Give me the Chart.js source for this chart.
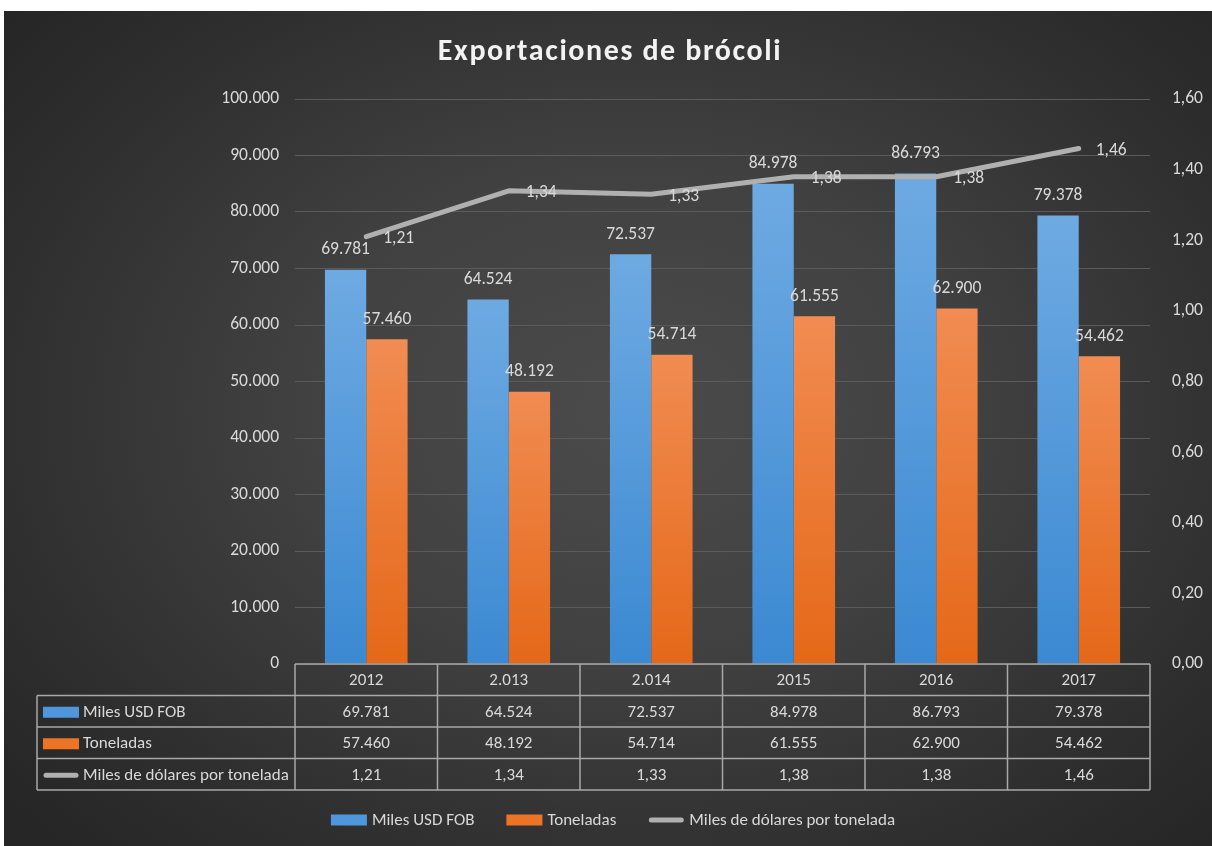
<!DOCTYPE html>
<html>
<head>
<meta charset="utf-8">
<script src="https://cdn.jsdelivr.net/npm/chart.js@4.4.1/dist/chart.umd.min.js"></script>
<style>
  html, body { margin: 0; padding: 0; background: #fff; }
  #wrap {
    position: absolute; left: 4px; top: 11px; width: 1208px; height: 835px;
    background: radial-gradient(ellipse 68% 72% at 52% 48%, #4b4b4b 0%, #414141 40%, #2e2e2e 80%, #262626 100%);
  }
  canvas { display: block; }
</style>
</head>
<body>
<div id="wrap"><canvas id="grafico" width="1208" height="835"></canvas></div>
<script>
  // datos del gráfico
  const anios = ['2012', '2.013', '2.014', '2015', '2016', '2017'];
  const milesUsdFob = [69781, 64524, 72537, 84978, 86793, 79378];
  const toneladas = [57460, 48192, 54714, 61555, 62900, 54462];
  const dolaresPorTonelada = [1.21, 1.34, 1.33, 1.38, 1.38, 1.46];
  const nombres = ['Miles USD FOB', 'Toneladas', 'Miles de dólares por tonelada'];
  const titulo = 'Exportaciones de brócoli';

  const colorTexto = '#d9d9d9';
  const colorLinea = '#b0b0b0';
  const colorClave = ['#4f97dc', '#ee7425'];
  const fuente = "Carlito, 'Liberation Sans', sans-serif";
  const tam = 17;

  const miles = n => String(n).replace(/\B(?=(\d{3})+(?!\d))/g, '.');
  const decimal = n => n.toFixed(2).replace('.', ',');

  Chart.defaults.font.family = fuente;
  Chart.defaults.font.size = 17.5;
  Chart.defaults.color = colorTexto;

  // degradado vertical para cada barra
  function degradado(c1, c2) {
    return function (context) {
      const chart = context.chart;
      const area = chart.chartArea;
      if (!area || context.raw == null) return c2;
      const top = chart.scales.y.getPixelForValue(context.raw);
      const g = chart.ctx.createLinearGradient(0, top, 0, area.bottom);
      g.addColorStop(0, c1);
      g.addColorStop(1, c2);
      return g;
    };
  }

  function dibujarClave(ctx, i, x, y) {
    if (i < 2) {
      ctx.fillStyle = colorClave[i];
      ctx.fillRect(x, y - 5.5, 36, 11);
    } else {
      ctx.save();
      ctx.strokeStyle = colorLinea;
      ctx.lineWidth = 5;
      ctx.lineCap = 'round';
      ctx.beginPath();
      ctx.moveTo(x + 3, y);
      ctx.lineTo(x + 33, y);
      ctx.stroke();
      ctx.restore();
    }
  }

  // título, etiquetas, tabla de datos y leyenda
  const tablaPlugin = {
    id: 'tabla',
    afterDraw(chart) {
      const ctx = chart.ctx;
      const area = chart.chartArea;
      const xs = chart.scales.x;
      ctx.save();

      // título con espaciado de letras
      ctx.font = 'bold 30px ' + fuente;
      ctx.letterSpacing = '1.6px';
      ctx.fillStyle = '#f2f2f2';
      ctx.textAlign = 'center';
      ctx.textBaseline = 'middle';
      ctx.fillText(titulo, chart.width / 2 + 2, 41);
      ctx.letterSpacing = '0px';

      ctx.font = '17.5px ' + fuente;
      ctx.fillStyle = colorTexto;

      // etiquetas de las barras
      [0, 1].forEach(d => {
        const datos = d === 0 ? milesUsdFob : toneladas;
        chart.getDatasetMeta(d).data.forEach((bar, j) => {
          ctx.fillText(miles(datos[j]), bar.x, bar.y - 20);
        });
      });
      // etiquetas de la línea
      ctx.textAlign = 'left';
      chart.getDatasetMeta(2).data.forEach((pt, j) => {
        ctx.fillText(decimal(dolaresPorTonelada[j]), pt.x + 17, pt.y + 2);
      });

      // tabla de datos
      ctx.font = tam + 'px ' + fuente;
      const paso = (area.right - area.left) / anios.length;
      const top = area.bottom;
      const alto = 31.5;
      const izq = 33;
      ctx.strokeStyle = '#a8a8a8';
      ctx.lineWidth = 1.5;
      ctx.beginPath();
      ctx.moveTo(area.left, top);
      ctx.lineTo(area.right, top);
      for (let r = 1; r <= 4; r++) {
        ctx.moveTo(izq, top + r * alto);
        ctx.lineTo(area.right, top + r * alto);
      }
      ctx.moveTo(izq, top + alto);
      ctx.lineTo(izq, top + 4 * alto);
      for (let k = 0; k <= anios.length; k++) {
        ctx.moveTo(area.left + k * paso, top);
        ctx.lineTo(area.left + k * paso, top + 4 * alto);
      }
      ctx.stroke();

      ctx.textAlign = 'center';
      const filas = [anios, milesUsdFob.map(miles), toneladas.map(miles), dolaresPorTonelada.map(decimal)];
      filas.forEach((fila, r) => {
        const y = top + r * alto + alto / 2 + 1;
        fila.forEach((v, j) => {
          ctx.fillStyle = colorTexto;
          ctx.fillText(v, xs.getPixelForValue(j), y);
        });
      });
      ctx.textAlign = 'left';
      nombres.forEach((n, i) => {
        const y = top + (i + 1) * alto + alto / 2 + 1;
        dibujarClave(ctx, i, izq + 6, y);
        ctx.fillStyle = colorTexto;
        ctx.fillText(n, izq + 46, y);
      });

      // leyenda inferior
      const anchos = nombres.map(n => ctx.measureText(n).width);
      const sep = 32;
      const total = anchos.reduce((a, w) => a + 36 + 5 + w, 0) + sep * (nombres.length - 1);
      let x = chart.width / 2 + 5 - total / 2;
      const yl = 809;
      nombres.forEach((n, i) => {
        dibujarClave(ctx, i, x, yl);
        ctx.fillStyle = colorTexto;
        ctx.fillText(n, x + 41, yl + 1);
        x += 41 + anchos[i] + sep;
      });
      ctx.restore();
    }
  };

  new Chart(document.getElementById('grafico'), {
    type: 'bar',
    data: {
      labels: anios,
      datasets: [
        {
          label: nombres[0], data: milesUsdFob, yAxisID: 'y', order: 1,
          backgroundColor: degradado('#6eaae2', '#3b89d2'),
          categoryPercentage: 0.58, barPercentage: 1
        },
        {
          label: nombres[1], data: toneladas, yAxisID: 'y', order: 1,
          backgroundColor: degradado('#f18c52', '#e56818'),
          categoryPercentage: 0.58, barPercentage: 1
        },
        {
          type: 'line', label: nombres[2], data: dolaresPorTonelada, yAxisID: 'y1', order: 0,
          borderColor: colorLinea, borderWidth: 5, pointRadius: 0, tension: 0,
          borderCapStyle: 'round', borderJoinStyle: 'round'
        }
      ]
    },
    options: {
      responsive: false,
      animation: false,
      layout: { padding: { top: 88 } },
      plugins: {
        legend: { display: false },
        tooltip: { enabled: false },
        title: { display: false }
      },
      scales: {
        x: {
          ticks: { display: false },
          grid: { display: false },
          border: { display: false },
          afterFit(s) { s.height = 182; }
        },
        y: {
          position: 'left', min: 0, max: 100000,
          ticks: { stepSize: 10000, padding: 16, color: colorTexto, callback: v => miles(v) },
          grid: { color: '#5b5b5b', drawTicks: false },
          border: { display: false },
          afterFit(s) { s.width = 291; }
        },
        y1: {
          position: 'right', min: 0, max: 1.6,
          ticks: { stepSize: 0.2, padding: 22, color: colorTexto, callback: v => decimal(v) },
          grid: { display: false, drawTicks: false },
          border: { display: false },
          afterFit(s) { s.width = 62; }
        }
      }
    },
    plugins: [tablaPlugin]
  });
</script>
</body>
</html>
